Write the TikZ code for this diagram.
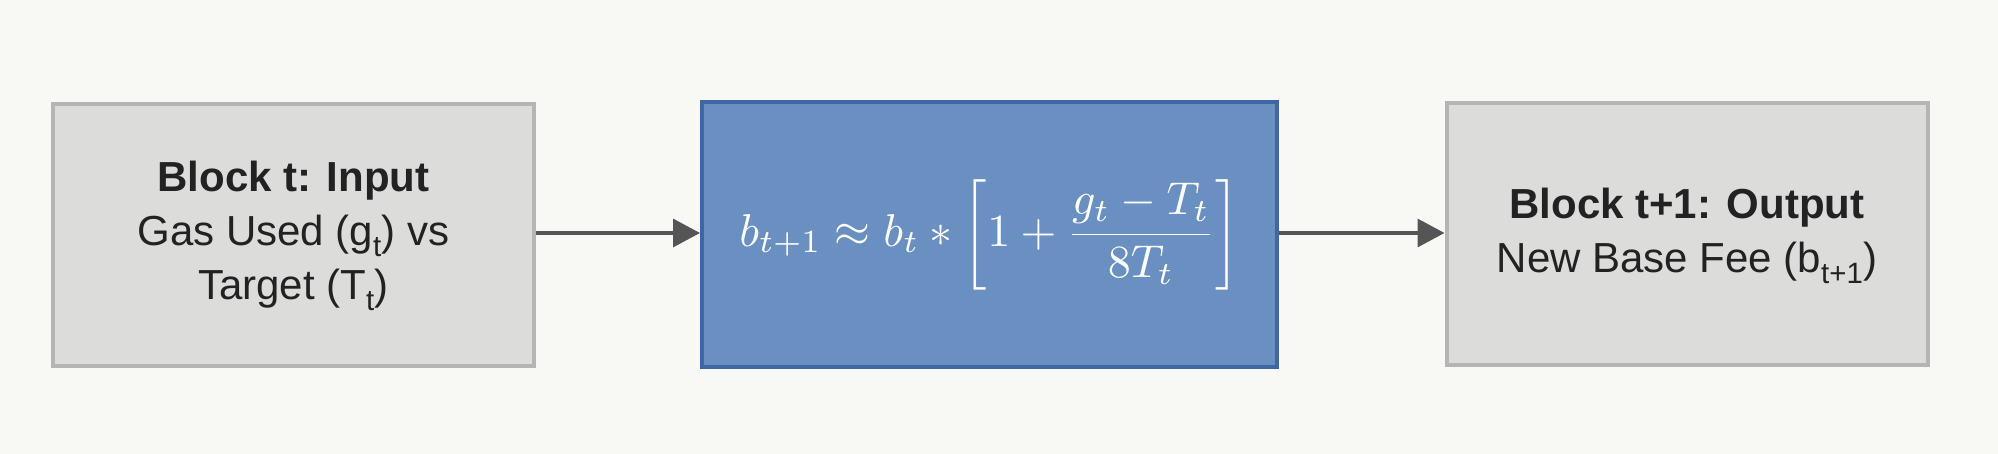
\documentclass[tikz,border=0pt]{standalone}
\usepackage{fontspec}
\setmainfont{Liberation Sans}
\usepackage{amsmath}
\usepackage{graphicx}
\usetikzlibrary{arrows.meta}
\definecolor{bgc}{HTML}{F8F8F4}
\definecolor{grayfill}{HTML}{DCDCDA}
\definecolor{grayline}{HTML}{B5B5B3}
\definecolor{bluefill}{HTML}{6A8FC1}
\definecolor{blueline}{HTML}{3D68A2}
\definecolor{arrowc}{HTML}{555555}
\definecolor{textc}{HTML}{222222}
\newcommand{\boxlines}[1]{\raisebox{-4pt}{\begin{tabular}{@{}c@{}}#1\end{tabular}}}
\tikzset{
  graybox/.style={draw=grayline, fill=grayfill, line width=4pt, inner sep=0pt,
    minimum width=481pt, minimum height=262pt, text=textc, align=center,
    font=\fontsize{42}{54}\selectfont},
  bluebox/.style={draw=blueline, fill=bluefill, line width=4pt, inner sep=0pt,
    minimum width=575pt, minimum height=265pt, text=white},
  flow/.style={draw=arrowc, line width=3.5pt, -{Triangle[length=27pt,width=28pt]}},
}
\begin{document}
\begin{tikzpicture}[x=1pt,y=-1pt]
\fill[bgc] (0,0) rectangle (1998,454);
\useasboundingbox (0,0) rectangle (1998,454);
\node[graybox] (inp) at (293.5,235) {\boxlines{\textbf{Block t: Input}\\Gas Used (g\textsubscript{t}) vs\\Target (T\textsubscript{t})}};
\node[bluebox] (upd) at (989.5,234.5) {\resizebox{500pt}{!}{$\displaystyle b_{t+1}\approx b_t * \left[1+\frac{g_t-T_t}{8T_t}\right]$}};
\node[graybox] (out) at (1687,234.5) {\boxlines{\textbf{Block t+1: Output}\\New Base Fee (b\textsubscript{t+1})}};
\draw[flow] (inp.east |- 0,233) -- (upd.west |- 0,233);
\draw[flow] (upd.east |- 0,233) -- (out.west |- 0,233);
\end{tikzpicture}
\end{document}
